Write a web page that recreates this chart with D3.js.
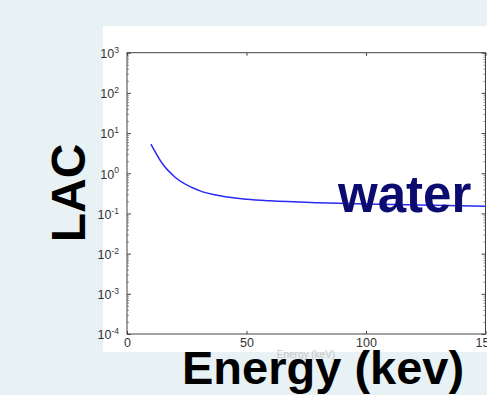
<!DOCTYPE html>
<html>
<head>
<meta charset="utf-8">
<script src="https://cdn.jsdelivr.net/npm/d3@7"></script>
<style>
  html, body { margin: 0; padding: 0; background: #e8f1f3; }
  svg { display: block; font-family: "Liberation Sans", Arial, sans-serif; }
</style>
</head>
<body>
<svg id="chart" width="487" height="395"></svg>
<script>
// water linear attenuation coefficient (1/cm) vs photon energy (keV)
const energies = [10, 15, 20, 30, 40, 50, 60, 80, 100, 150];
const lacValues = [5.33, 1.67, 0.81, 0.376, 0.268, 0.227, 0.206, 0.184, 0.171, 0.151];
const xTicks = [0, 50, 100, 150];
const yExponents = [-4, -3, -2, -1, 0, 1, 2, 3];

const svg = d3.select('#chart');
const width = 487, height = 395;
const margin = { top: 52.7, right: 1.5, bottom: 61, left: 127 };
const innerWidth = width - margin.left - margin.right;
const innerHeight = height - margin.top - margin.bottom;

// white figure panel
svg.append('rect')
  .attr('x', 103).attr('y', 26)
  .attr('width', width - 103).attr('height', 326)
  .attr('fill', '#fff');

const g = svg.append('g')
  .attr('transform', `translate(${margin.left},${margin.top})`);

const x = d3.scaleLinear().domain([0, 150]).range([0, innerWidth]);
const y = d3.scaleLog().domain([1e-4, 1e3]).range([innerHeight, 0]);

const axisColor = '#444';
const labelFont = 'Liberation Sans, Arial, sans-serif';

// minor ticks for log axis (left and right, inward)
const minor = [];
for (let e = -4; e < 3; e++) for (let m = 2; m <= 9; m++) minor.push(m * Math.pow(10, e));

g.append('g')
  .call(d3.axisLeft(y).tickValues(minor).tickSize(-2).tickFormat(() => ''))
  .call(s => s.select('.domain').remove())
  .call(s => s.selectAll('line').attr('stroke', axisColor).attr('stroke-width', 0.6));
g.append('g')
  .attr('transform', `translate(${innerWidth},0)`)
  .call(d3.axisRight(y).tickValues(minor).tickSize(-2).tickFormat(() => ''))
  .call(s => s.select('.domain').remove())
  .call(s => s.selectAll('line').attr('stroke', axisColor).attr('stroke-width', 0.6));

// major y ticks
const yMajor = yExponents.map(e => Math.pow(10, e));
const yAxis = g.append('g')
  .call(d3.axisLeft(y).tickValues(yMajor).tickSize(-4).tickFormat(() => ''))
  .call(s => s.select('.domain').remove())
  .call(s => s.selectAll('line').attr('stroke', axisColor));
yAxis.attr('font-size', 12.5).attr('font-family', labelFont);
yAxis.selectAll('.tick text').each(function(d) {
  const t = d3.select(this)
    .attr('x', -8).attr('dy', '0.38em')
    .attr('font-size', 12.5).attr('fill', '#333')
    .attr('text-anchor', 'end');
  t.append('tspan').text('10');
  t.append('tspan').attr('dy', '-0.6em').attr('font-size', 8.5).text(Math.round(Math.log10(d)));
});
g.append('g')
  .attr('transform', `translate(${innerWidth},0)`)
  .call(d3.axisRight(y).tickValues(yMajor).tickSize(-4).tickFormat(() => ''))
  .call(s => s.select('.domain').remove())
  .call(s => s.selectAll('line').attr('stroke', axisColor));

// x ticks
g.append('g')
  .attr('transform', `translate(0,${innerHeight})`)
  .call(d3.axisBottom(x).tickValues(xTicks).tickSize(-3).tickPadding(4).tickFormat(d3.format('d')))
  .call(s => s.attr('font-size', 12.5).attr('font-family', labelFont))
  .call(s => s.select('.domain').remove())
  .call(s => s.selectAll('line').attr('stroke', axisColor))
  .call(s => s.selectAll('text').attr('fill', '#333'));
g.append('g')
  .call(d3.axisTop(x).tickValues(xTicks).tickSize(-3).tickFormat(() => ''))
  .call(s => s.select('.domain').remove())
  .call(s => s.selectAll('line').attr('stroke', axisColor));

// frame
g.append('rect')
  .attr('width', innerWidth).attr('height', innerHeight)
  .attr('fill', 'none').attr('stroke', axisColor).attr('stroke-width', 1);

// curve
const line = d3.line()
  .x((d, i) => x(energies[i]))
  .y(d => y(d))
  .curve(d3.curveMonotoneX);

g.append('path')
  .datum(lacValues)
  .attr('fill', 'none')
  .attr('stroke', '#2a2af5')
  .attr('stroke-width', 1.5)
  .attr('d', line);

// faint original x label, mostly hidden by the big one
svg.append('text')
  .attr('x', 306).attr('y', 358)
  .attr('text-anchor', 'middle')
  .attr('font-size', 10).attr('fill', '#c8c8c8')
  .text('Energy (keV)');

// big overlay labels
svg.append('text')
  .attr('transform', 'translate(85,193) rotate(-90)')
  .attr('text-anchor', 'middle')
  .attr('font-size', 48).attr('font-weight', 'bold').attr('fill', '#000')
  .text('LAC');

svg.append('text')
  .attr('x', 182).attr('y', 384)
  .attr('font-size', 47).attr('font-weight', 'bold').attr('fill', '#000')
  .text('Energy (kev)');

svg.append('text')
  .attr('x', 338).attr('y', 212)
  .attr('font-size', 51).attr('font-weight', 'bold').attr('fill', '#0c0c70')
  .text('water');
</script>
</body>
</html>
